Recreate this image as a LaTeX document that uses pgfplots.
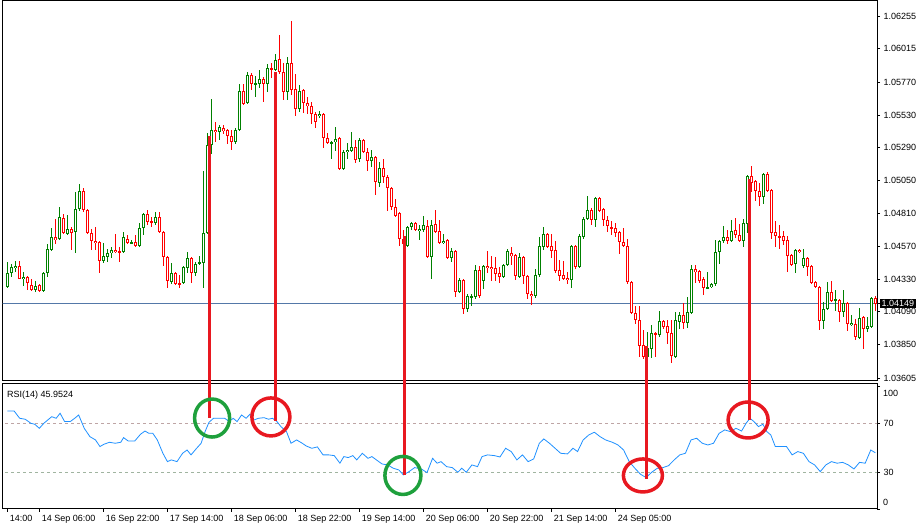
\documentclass[border=0pt]{standalone}
\usepackage{fontspec}
\setmainfont{Liberation Sans}
\usepackage{pgfplots}
\pgfplotsset{compat=1.18}
\usepackage{pgfplotstable}

\definecolor{upc}{RGB}{0,128,0}
\definecolor{dnc}{RGB}{255,0,0}
\definecolor{rsic}{RGB}{30,144,255}
\definecolor{pline}{RGB}{84,120,168}
\definecolor{mred}{RGB}{232,24,32}
\definecolor{mgreen}{RGB}{30,160,60}
\definecolor{levhi}{RGB}{190,165,165}
\definecolor{levlo}{RGB}{160,180,160}

% bar, open, high, low, close
\pgfplotstableread{
x o h l c
0 1.04271 1.04454 1.04263 1.04374
1 1.04374 1.04440 1.04345 1.04418
2 1.04410 1.04462 1.04381 1.04425
3 1.04425 1.04462 1.04330 1.04330
4 1.04330 1.04381 1.04278 1.04345
5 1.04345 1.04352 1.04249 1.04300
6 1.04285 1.04330 1.04242 1.04249
7 1.04249 1.04315 1.04234 1.04278
8 1.04285 1.04293 1.04234 1.04242
9 1.04242 1.04381 1.04234 1.04374
10 1.04374 1.04586 1.04345 1.04549
11 1.04542 1.04703 1.04535 1.04637
12 1.04637 1.04769 1.04586 1.04615
13 1.04622 1.04857 1.04615 1.04784
14 1.04776 1.04806 1.04659 1.04666
15 1.04659 1.04798 1.04651 1.04696
16 1.04696 1.04710 1.04542 1.04666
17 1.04673 1.04966 1.04520 1.04842
18 1.04842 1.05025 1.04827 1.04974
19 1.04974 1.04996 1.04820 1.04835
20 1.04835 1.04842 1.04659 1.04666
21 1.04666 1.04696 1.04542 1.04608
22 1.04608 1.04710 1.04542 1.04593
23 1.04600 1.04608 1.04374 1.04462
24 1.04462 1.04593 1.04447 1.04498
25 1.04491 1.04549 1.04454 1.04520
26 1.04520 1.04564 1.04484 1.04542
27 1.04542 1.04659 1.04520 1.04527
28 1.04535 1.04564 1.04454 1.04527
29 1.04527 1.04673 1.04520 1.04637
30 1.04622 1.04651 1.04586 1.04593
31 1.04593 1.04615 1.04586 1.04600
32 1.04600 1.04651 1.04564 1.04571
33 1.04571 1.04740 1.04564 1.04703
34 1.04703 1.04813 1.04651 1.04806
35 1.04806 1.04835 1.04725 1.04747
36 1.04754 1.04784 1.04710 1.04740
37 1.04740 1.04820 1.04725 1.04784
38 1.04784 1.04820 1.04666 1.04673
39 1.04673 1.04681 1.04425 1.04491
40 1.04491 1.04498 1.04263 1.04315
41 1.04308 1.04447 1.04293 1.04374
42 1.04374 1.04381 1.04285 1.04293
43 1.04300 1.04359 1.04263 1.04290
44 1.04300 1.04425 1.04293 1.04418
45 1.04410 1.04527 1.04374 1.04484
46 1.04484 1.04491 1.04300 1.04374
47 1.04374 1.04454 1.04352 1.04440
48 1.04440 1.04498 1.04432 1.04454
49 1.04447 1.05121 1.04263 1.04666
50 1.04666 1.05398 1.04659 1.05310
51 1.05310 1.05647 1.05245 1.05420
52 1.05420 1.05479 1.05332 1.05405
53 1.05405 1.05457 1.05347 1.05442
54 1.05435 1.05457 1.05391 1.05413
55 1.05420 1.05427 1.05318 1.05376
56 1.05376 1.05420 1.05274 1.05332
57 1.05332 1.05435 1.05318 1.05420
58 1.05420 1.05757 1.05413 1.05706
59 1.05706 1.05757 1.05603 1.05611
60 1.05618 1.05845 1.05611 1.05823
61 1.05823 1.05838 1.05713 1.05757
62 1.05757 1.05816 1.05662 1.05764
63 1.05757 1.05860 1.05728 1.05794
64 1.05794 1.05808 1.05625 1.05757
65 1.05757 1.05904 1.05698 1.05874
66 1.05874 1.05911 1.05801 1.05860
67 1.05860 1.05977 1.05852 1.05933
68 1.05940 1.06116 1.05830 1.05845
69 1.05845 1.05911 1.05640 1.05698
70 1.05698 1.05955 1.05640 1.05911
71 1.05911 1.06218 1.05677 1.05713
72 1.05720 1.05830 1.05523 1.05574
73 1.05574 1.05750 1.05552 1.05706
74 1.05713 1.05720 1.05545 1.05618
75 1.05618 1.05662 1.05538 1.05596
76 1.05596 1.05625 1.05464 1.05538
77 1.05538 1.05552 1.05435 1.05479
78 1.05523 1.05559 1.05508 1.05538
79 1.05538 1.05545 1.05289 1.05362
80 1.05362 1.05398 1.05318 1.05325
81 1.05325 1.05340 1.05208 1.05332
82 1.05332 1.05442 1.05267 1.05354
83 1.05362 1.05369 1.05128 1.05135
84 1.05135 1.05274 1.05128 1.05259
85 1.05259 1.05325 1.05208 1.05274
86 1.05267 1.05405 1.05259 1.05296
87 1.05296 1.05347 1.05179 1.05201
88 1.05208 1.05362 1.05186 1.05347
89 1.05347 1.05355 1.05252 1.05259
90 1.05259 1.05289 1.05120 1.05193
91 1.05193 1.05274 1.05150 1.05223
92 1.05223 1.05230 1.04945 1.05040
93 1.05032 1.05186 1.05003 1.05142
94 1.05142 1.05208 1.05032 1.05076
95 1.05076 1.05091 1.04827 1.04996
96 1.04996 1.05003 1.04835 1.04857
97 1.04857 1.04915 1.04784 1.04791
98 1.04813 1.04820 1.04571 1.04622
99 1.04622 1.04688 1.04578 1.04586
100 1.04571 1.04718 1.04564 1.04710
101 1.04710 1.04747 1.04688 1.04740
102 1.04740 1.04747 1.04681 1.04688
103 1.04681 1.04725 1.04615 1.04696
104 1.04688 1.04791 1.04673 1.04725
105 1.04718 1.04762 1.04484 1.04491
106 1.04491 1.04762 1.04330 1.04725
107 1.04732 1.04835 1.04666 1.04673
108 1.04681 1.04762 1.04586 1.04593
109 1.04593 1.04659 1.04586 1.04608
110 1.04615 1.04622 1.04476 1.04484
111 1.04484 1.04557 1.04454 1.04535
112 1.04535 1.04542 1.04198 1.04234
113 1.04234 1.04337 1.04227 1.04322
114 1.04322 1.04330 1.04074 1.04110
115 1.04110 1.04220 1.04088 1.04205
116 1.04198 1.04220 1.04132 1.04205
117 1.04198 1.04432 1.04183 1.04396
118 1.04396 1.04425 1.04191 1.04205
119 1.04315 1.04432 1.04256 1.04425
120 1.04425 1.04535 1.04374 1.04410
121 1.04418 1.04498 1.04315 1.04403
122 1.04410 1.04491 1.04315 1.04367
123 1.04374 1.04418 1.04300 1.04345
124 1.04345 1.04440 1.04337 1.04432
125 1.04432 1.04549 1.04425 1.04535
126 1.04520 1.04564 1.04432 1.04498
127 1.04505 1.04513 1.04322 1.04352
128 1.04345 1.04520 1.04337 1.04491
129 1.04491 1.04498 1.04293 1.04352
130 1.04352 1.04359 1.04183 1.04220
131 1.04220 1.04242 1.04139 1.04205
132 1.04205 1.04403 1.04191 1.04359
133 1.04359 1.04637 1.04345 1.04571
134 1.04564 1.04710 1.04542 1.04659
135 1.04659 1.04666 1.04557 1.04564
136 1.04571 1.04659 1.04484 1.04535
137 1.04542 1.04608 1.04374 1.04388
138 1.04396 1.04469 1.04315 1.04352
139 1.04359 1.04462 1.04322 1.04330
140 1.04337 1.04381 1.04293 1.04322
141 1.04322 1.04579 1.04263 1.04571
142 1.04571 1.04579 1.04403 1.04418
143 1.04418 1.04659 1.04410 1.04644
144 1.04637 1.04784 1.04622 1.04769
145 1.04769 1.04937 1.04762 1.04835
146 1.04835 1.04850 1.04725 1.04762
147 1.04762 1.04930 1.04710 1.04923
148 1.04923 1.04930 1.04820 1.04827
149 1.04842 1.04850 1.04718 1.04762
150 1.04762 1.04791 1.04673 1.04718
151 1.04710 1.04754 1.04651 1.04696
152 1.04703 1.04740 1.04637 1.04666
153 1.04673 1.04681 1.04513 1.04600
154 1.04600 1.04703 1.04564 1.04571
155 1.04571 1.04622 1.04293 1.04308
156 1.04308 1.04315 1.04074 1.04081
157 1.04081 1.04132 1.04000 1.04030
158 1.04030 1.04132 1.03759 1.03839
159 1.03847 1.03956 1.03744 1.03759
160 1.03759 1.03942 1.03722 1.03825
161 1.03818 1.03993 1.03752 1.03935
162 1.03935 1.03942 1.03759 1.03927
163 1.03920 1.04096 1.03905 1.04023
164 1.04023 1.04030 1.03964 1.03979
165 1.03986 1.04030 1.03854 1.03935
166 1.03935 1.04030 1.03715 1.03766
167 1.03759 1.04088 1.03752 1.04030
168 1.04015 1.04088 1.03964 1.04066
169 1.04066 1.04154 1.03964 1.04008
170 1.04008 1.04198 1.03971 1.04088
171 1.04081 1.04432 1.04074 1.04403
172 1.04403 1.04432 1.04300 1.04381
173 1.04388 1.04396 1.04300 1.04315
174 1.04330 1.04345 1.04213 1.04263
175 1.04263 1.04381 1.04256 1.04271
176 1.04271 1.04300 1.04263 1.04293
177 1.04293 1.04615 1.04278 1.04527
178 1.04527 1.04615 1.04440 1.04608
179 1.04608 1.04718 1.04593 1.04637
180 1.04637 1.04688 1.04586 1.04608
181 1.04608 1.04762 1.04600 1.04681
182 1.04688 1.04776 1.04630 1.04651
183 1.04651 1.04732 1.04600 1.04608
184 1.04608 1.04769 1.04564 1.04740
185 1.04732 1.05091 1.04666 1.05084
186 1.05084 1.05157 1.04966 1.05032
187 1.05047 1.05054 1.04901 1.04974
188 1.04974 1.05032 1.04864 1.04930
189 1.04930 1.05106 1.04879 1.05098
190 1.05098 1.05113 1.04966 1.04974
191 1.04981 1.04988 1.04622 1.04666
192 1.04673 1.04754 1.04564 1.04644
193 1.04644 1.04725 1.04549 1.04637
194 1.04644 1.04681 1.04579 1.04608
195 1.04615 1.04644 1.04381 1.04498
196 1.04505 1.04513 1.04425 1.04432
197 1.04440 1.04549 1.04374 1.04542
198 1.04542 1.04549 1.04520 1.04527
199 1.04425 1.04549 1.04410 1.04484
200 1.04484 1.04491 1.04352 1.04418
201 1.04425 1.04432 1.04293 1.04300
202 1.04308 1.04315 1.04263 1.04271
203 1.04271 1.04278 1.03956 1.04023
204 1.04023 1.04161 1.03964 1.04110
205 1.04110 1.04308 1.04103 1.04234
206 1.04234 1.04315 1.04161 1.04169
207 1.04169 1.04249 1.04096 1.04183
208 1.04176 1.04183 1.04015 1.04088
209 1.04088 1.04249 1.04052 1.04154
210 1.04154 1.04161 1.03949 1.04000
211 1.03993 1.04066 1.03986 1.04008
212 1.04000 1.04037 1.03883 1.03905
213 1.03898 1.04118 1.03891 1.04044
214 1.04052 1.04059 1.03818 1.03964
215 1.03964 1.04052 1.03942 1.03986
216 1.03979 1.04198 1.03971 1.04191
217 1.04191 1.04205 1.04096 1.04149
}\candles

\pgfplotsset{
  mt/.style={scale only axis, width=874.5pt, xmin=-1.2, xmax=217.425,
    clip mode=individual,
    axis line style={black, line width=1pt},
    tick style={black, line width=0.8pt}, tick align=outside,
    major tick length=3pt,
    tick label style={font=\fontsize{9}{10.8}\selectfont},
    ytick pos=right, yticklabel pos=right},
  wick/.style={draw=none, mark=none, forget plot,
    error bars/.cd, y dir=both, y explicit, error mark=none,
    error bar style={#1, line width=1pt}},
  body/.style={draw=none, mark=none, forget plot,
    error bars/.cd, y dir=both, y explicit, error mark=none,
    error bar style={#1, line width=3pt}},
}

\begin{document}
\begin{tikzpicture}
\path[use as bounding box] (0pt,0pt) rectangle (917pt,526pt);

% price panel
\begin{axis}[mt, name=price, at={(2.5pt,145pt)}, anchor=south west,
  height=380pt, ymin=1.03583, ymax=1.06365, xtick=\empty,
  ytick={1.03605,1.0385,1.0409,1.0433,1.0457,1.0481,1.0505,1.0529,1.0553,1.0577,1.06015,1.06255},
  yticklabels={1.03605,1.03850,1.04090,1.04330,1.04570,1.04810,1.05050,1.05290,1.05530,1.05770,1.06015,1.06255},
  extra y ticks={1.04149}, extra y tick labels={1.04149},
  extra y tick style={yticklabel style={fill=black, text=white, inner sep=1.5pt}}]
\addplot[pline, line width=1pt, forget plot] coordinates {(-2,1.04149) (219,1.04149)};
% wicks
\addplot[wick=upc] table[x=x, y expr={\thisrow{c}>=\thisrow{o} ? (\thisrow{h}+\thisrow{l})/2 : nan}, y error expr={(\thisrow{h}-\thisrow{l})/2}] {\candles};
\addplot[wick=dnc] table[x=x, y expr={\thisrow{c}<\thisrow{o} ? (\thisrow{h}+\thisrow{l})/2 : nan}, y error expr={(\thisrow{h}-\thisrow{l})/2}] {\candles};
% bodies
\addplot[body=upc] table[x=x, y expr={\thisrow{c}>=\thisrow{o} ? (\thisrow{o}+\thisrow{c})/2 : nan}, y error expr={max(abs(\thisrow{c}-\thisrow{o})/2,0.00004)}] {\candles};
\addplot[body=dnc] table[x=x, y expr={\thisrow{c}<\thisrow{o} ? (\thisrow{o}+\thisrow{c})/2 : nan}, y error expr={max(abs(\thisrow{c}-\thisrow{o})/2,0.00004)}] {\candles};
% hollow centres
\addplot[draw=none, mark=none, forget plot, error bars/.cd, y dir=both, y explicit, error mark=none, error bar style={white, line width=1pt}]
  table[x=x, y expr={(\thisrow{o}+\thisrow{c})/2}, y error expr={max(abs(\thisrow{c}-\thisrow{o})/2-0.0000732,0)}] {\candles};
\coordinate (a1) at (axis cs:50.6,1.05377);
\coordinate (a2) at (axis cs:67.0,1.05843);
\coordinate (a3) at (axis cs:99.25,1.04645);
\coordinate (a4) at (axis cs:159.75,1.03842);
\coordinate (a5) at (axis cs:185.6,1.05060);
\end{axis}

% RSI panel
\begin{axis}[mt, name=rsi, at={(2.5pt,17pt)}, anchor=south west,
  height=125pt, ymin=0, ymax=102.1,
  ytick={30,70}, yticklabels={30,70},
  extra y ticks={0,100}, extra y tick labels={},
  xtick pos=bottom, major tick length=3pt,
  xtick={0,8,24,40,56,72,88,104,120,136,152},
  xticklabels={14:00,14 Sep 06:00,16 Sep 22:00,17 Sep 14:00,18 Sep 06:00,18 Sep 22:00,19 Sep 14:00,20 Sep 06:00,20 Sep 22:00,21 Sep 14:00,24 Sep 05:00},
  xticklabel style={anchor=north west, xshift=-1pt}]
\addplot[levhi, dashed, forget plot] coordinates {(-2,70) (219,70)};
\addplot[levlo, dashed, forget plot] coordinates {(-2,30) (219,30)};
\addplot[rsic, line width=0.8pt] coordinates {
(0,80.1)(1.69,80.1)(3.09,74.1)(4.49,73.3)(5.9,70.0)(6.88,69.2)(8.0,65.9)(9.13,70.0)(10.11,72.7)(11.1,75.4)(12.22,74.1)(13.2,78.2)(14.33,71.4)(15.73,71.4)(16.85,74.1)(17.84,76.8)(19.24,65.9)(20.65,59.1)(22.05,56.4)(23.17,51.0)(24.16,52.9)(25.56,54.5)(26.97,53.7)(28.37,54.5)(29.07,58.3)(30.2,55.6)(31.88,55.6)(33.29,61.0)(34.41,63.7)(35.4,61.8)(36.38,61.8)(37.5,56.4)(38.9,45.5)(40.03,38.7)(41.01,40.1)(42.42,38.7)(43.82,45.5)(44.94,48.2)(45.93,44.2)(47.33,49.6)(48.46,53.7)(49.44,63.2)(50.42,70.8)(51.55,74.1)(52.95,74.1)(54.35,74.1)(55.48,71.4)(56.46,74.1)(57.45,71.4)(58.57,76.8)(59.69,74.1)(60.68,77.4)(61.66,72.7)(62.78,74.1)(64.19,74.6)(65.31,73.3)(66.29,74.1)(67.42,71.4)(68.4,67.3)(69.8,63.2)(70.93,53.7)(72.33,56.4)(73.74,53.7)(74.72,51.5)(76.12,49.6)(77.53,50.7)(78.93,44.2)(80.34,44.2)(81.74,43.6)(83.15,37.4)(84.13,42.8)(85.25,42.0)(86.38,43.6)(87.36,40.1)(88.76,45.5)(90.17,41.4)(91.15,42.8)(92.28,40.1)(93.68,36.8)(95.08,36.0)(96.49,33.3)(97.89,31.9)(99.02,27.8)(100.42,30.5)(101.83,33.8)(103.51,32.7)(104.92,29.7)(106.32,41.4)(107.45,37.4)(108.43,38.7)(109.83,34.6)(111.24,33.8)(112.64,30.0)(113.62,33.3)(114.75,30.0)(116.15,36.0)(117.56,34.6)(118.68,42.8)(120.08,44.2)(121.77,43.6)(123.17,42.5)(124.58,49.6)(125.98,46.9)(127.39,40.1)(128.79,44.2)(130.2,38.7)(131.6,40.9)(133.0,53.7)(134.13,57.2)(135.54,53.7)(136.94,49.6)(138.34,45.5)(140.03,45.0)(141.43,49.6)(142.56,46.9)(143.96,56.4)(145.37,60.5)(146.77,62.7)(148.18,59.1)(149.58,56.4)(151.26,54.5)(152.67,52.3)(154.07,48.2)(155.48,38.7)(156.88,33.3)(158.29,28.4)(159.69,25.7)(161.1,30.0)(162.5,33.3)(163.91,33.8)(165.31,35.4)(166.72,40.1)(168.12,44.2)(169.52,45.5)(170.93,56.4)(172.33,57.8)(173.74,53.7)(175.14,52.3)(176.55,53.7)(177.95,61.8)(179.36,64.6)(180.76,63.2)(182.16,65.9)(183.57,63.7)(184.69,70.0)(185.67,74.1)(186.66,71.4)(187.78,67.3)(188.9,69.2)(189.89,63.2)(190.87,60.5)(192.0,51.0)(193.4,51.0)(194.8,51.0)(196.21,44.2)(197.61,46.9)(199.02,45.5)(200.42,38.7)(201.83,36.0)(203.23,30.5)(204.63,36.0)(206.04,38.7)(207.44,37.4)(208.85,38.1)(210.25,36.0)(211.66,32.7)(213.06,38.1)(214.47,37.4)(215.87,48.2)(217,45.95)};
\node[anchor=north west, inner sep=0pt, xshift=4.5pt, yshift=-7pt, font=\fontsize{9}{10.8}\selectfont] at (rel axis cs:0,1) {RSI(14) 45.9524};
\node[anchor=west, inner sep=0pt, xshift=6pt, font=\fontsize{9}{10.8}\selectfont] at (rel axis cs:1,0.928) {100};
\node[anchor=west, inner sep=0pt, xshift=6pt, font=\fontsize{9}{10.8}\selectfont] at (rel axis cs:1,0.056) {0};
\coordinate (b1) at (axis cs:50.6,74.3);
\coordinate (b2) at (axis cs:67.0,71.9);
\coordinate (b3) at (axis cs:99.25,27.8);
\coordinate (b4) at (axis cs:159.75,24.5);
\coordinate (b5) at (axis cs:185.6,72.7);
\coordinate (g1) at (axis cs:51.2,74.3);
\coordinate (r1) at (axis cs:65.9,75.2);
\coordinate (g2) at (axis cs:98.9,27.4);
\coordinate (r2) at (axis cs:158.9,27.4);
\coordinate (r3) at (axis cs:185.2,72.7);
\end{axis}

% annotations
\foreach \n in {1,...,5} {\draw[mred, line width=3pt] (a\n) -- (b\n);}
\draw[mgreen, line width=3.5pt] (g1) ellipse [x radius=17.5pt, y radius=19pt];
\draw[mgreen, line width=3.5pt] (g2) ellipse [x radius=18pt, y radius=19pt];
\draw[mred, line width=3.5pt] (r1) ellipse [x radius=19pt, y radius=19pt];
\draw[mred, line width=3.5pt] (r2) ellipse [x radius=19.5pt, y radius=16.5pt];
\draw[mred, line width=3.5pt] (r3) ellipse [x radius=20pt, y radius=18pt];
\end{tikzpicture}
\end{document}
